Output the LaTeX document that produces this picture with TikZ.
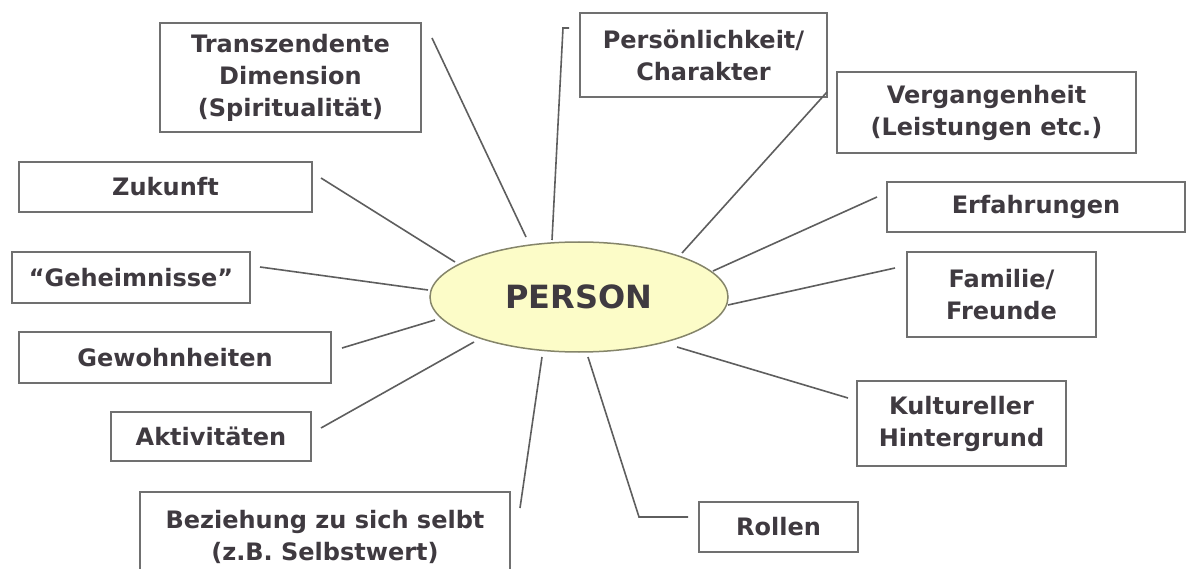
\documentclass[tikz,border=0pt]{standalone}
\usepackage{fontspec}
\setmainfont{DejaVu Sans}
\usetikzlibrary{shapes.geometric}
\definecolor{txt}{HTML}{3F3A40}
\definecolor{boxc}{HTML}{707070}
\definecolor{linec}{HTML}{5E5E5E}
\definecolor{ellfill}{HTML}{FCFCC8}
\definecolor{elldraw}{HTML}{85856A}
\begin{document}
\begin{tikzpicture}[x=1pt,y=-1pt,
  box/.style={draw=boxc, line width=2pt, fill=white, inner sep=0pt, align=center,
    font=\fontsize{24}{32}\selectfont\bfseries, text=txt},
  conn/.style={draw=linec, line width=1.6pt}]
\useasboundingbox (0,0) rectangle (1186,569);
\clip (0,0) rectangle (1186,569);
\fill[white] (0,0) rectangle (1186,569);

% boxes
\node[box, minimum width=261pt, minimum height=109pt] (trans) at (290.5,77.5) {Transzendente\\Dimension\\(Spiritualität)};
\node[box, minimum width=247pt, minimum height=84pt] (pers) at (703.5,55) {Persönlichkeit/\\Charakter};
\node[box, minimum width=299pt, minimum height=81pt] (verg) at (986.5,112.5) {Vergangenheit\\(Leistungen etc.)};
\node[box, minimum width=293pt, minimum height=50pt] (zuk) at (165.5,187) {Zukunft};
\node[box, minimum width=298pt, minimum height=50pt] (erf) at (1036,207) {Erfahrungen};
\node[box, minimum width=238pt, minimum height=51pt] (geh) at (131,277.5) {“Geheimnisse”};
\node[box, minimum width=189pt, minimum height=85pt] (fam) at (1001.5,294.5) {Familie/\\Freunde};
\node[box, minimum width=312pt, minimum height=51pt] (gew) at (175,357.5) {Gewohnheiten};
\node[box, minimum width=200pt, minimum height=49pt] (akt) at (211,436.5) {Aktivitäten};
\node[box, minimum width=209pt, minimum height=85pt] (kult) at (961.5,423.5) {Kultureller\\Hintergrund};
\node[box, minimum width=370pt, minimum height=90pt] (bez) at (325,537) {Beziehung zu sich selbt\\(z.B. Selbstwert)};
\node[box, minimum width=159pt, minimum height=50pt] (rol) at (778.5,527) {Rollen};

% central ellipse
\node[ellipse, draw=elldraw, line width=1.5pt, fill=ellfill, minimum width=298pt, minimum height=110pt,
  inner sep=0pt, text=txt, font=\fontsize{32}{38}\selectfont\bfseries] (P) at (579,297) {PERSON};

% connector end points
\coordinate (t1) at (432,38);   \coordinate (t2) at (526,237);
\coordinate (p1) at (552,240);  \coordinate (p2) at (563,28);  \coordinate (p3) at (569,28);
\coordinate (v1) at (682,253);  \coordinate (v2) at (827,92);
\coordinate (z1) at (321,178);  \coordinate (z2) at (455,262);
\coordinate (g1) at (260,267);  \coordinate (g2) at (428,290);
\coordinate (w1) at (342,348);  \coordinate (w2) at (435,320);
\coordinate (a1) at (321,428);  \coordinate (a2) at (474,342);
\coordinate (b1) at (542,357);  \coordinate (b2) at (520,508);
\coordinate (r1) at (588,357);  \coordinate (r2) at (639,517); \coordinate (r3) at (688,517);
\coordinate (k1) at (677,347);  \coordinate (k2) at (848,398);
\coordinate (f1) at (728,305);  \coordinate (f2) at (895,268);
\coordinate (e1) at (713,271);  \coordinate (e2) at (877,197);

\draw[conn] (t1) -- (t2);
\draw[conn] (p1) -- (p2) -- (p3);
\draw[conn] (v1) -- (v2);
\draw[conn] (z1) -- (z2);
\draw[conn] (g1) -- (g2);
\draw[conn] (w1) -- (w2);
\draw[conn] (a1) -- (a2);
\draw[conn] (b1) -- (b2);
\draw[conn] (r1) -- (r2) -- (r3);
\draw[conn] (k1) -- (k2);
\draw[conn] (f1) -- (f2);
\draw[conn] (e1) -- (e2);
\end{tikzpicture}
\end{document}
